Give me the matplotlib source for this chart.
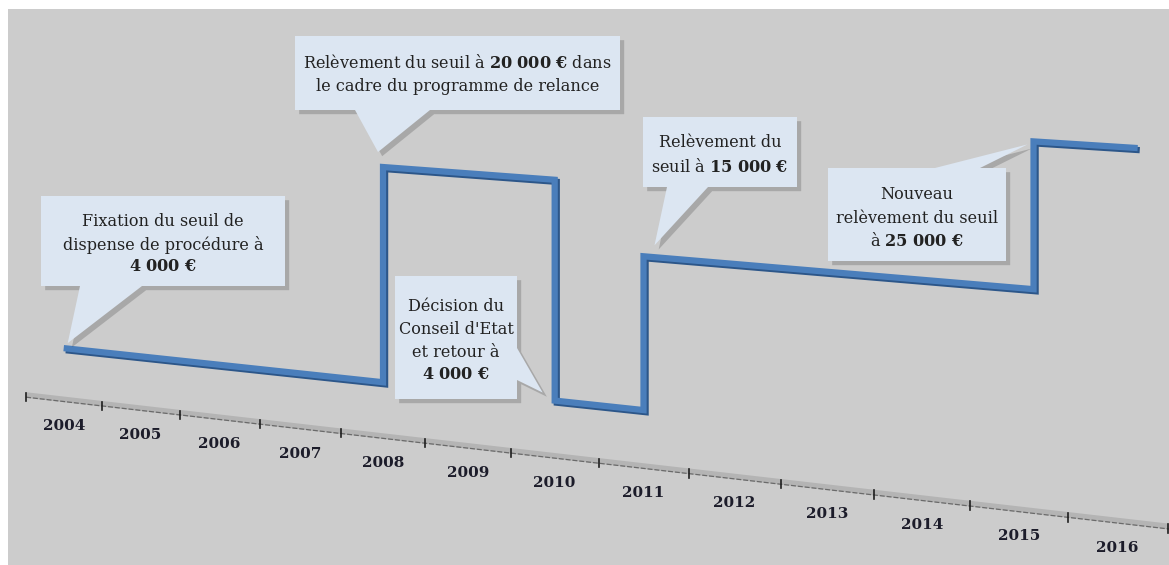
import numpy as np
import matplotlib
matplotlib.use("Agg")
import matplotlib.pyplot as plt
from matplotlib.transforms import Transform
from matplotlib.patches import Polygon
import matplotlib.patheffects as pe

# seuil de dispense de procédure (euros), step line
years = [2004, 2008, 2008, 2010, 2010, 2011, 2011, 2015.15, 2015.15, 2016.2]
seuil = [4000, 4000, 20000, 20000, 4000, 4000, 15000, 15000, 25000, 25000]
year_labels = list(range(2004, 2017))

plt.rcParams['font.family'] = 'DejaVu Serif'
plt.rcParams['mathtext.fontset'] = 'custom'
plt.rcParams['mathtext.rm'] = 'DejaVu Serif'
plt.rcParams['mathtext.bf'] = 'DejaVu Serif:bold'


class Floor(Transform):
    # tilted "3D" floor: years go down to the right, euros rise off the axis line
    input_dims = output_dims = 2

    def transform_non_affine(self, v):
        v = np.asarray(v, float).reshape(-1, 2)
        t = v[:, 0] - 2004
        px = 63.7 + 75.83 * t + 1.0 * t ** 2
        k = (12.67 + 0.00204 * px) / 1000
        py = 395 + 0.115 * (px - 26) - v[:, 1] * k
        return np.column_stack([px, py])


fig = plt.figure(figsize=(11.69, 5.65), dpi=100)
ax = fig.add_axes([8 / 1169, 0, 1161 / 1169, 556 / 565])
ax.set_xlim(8, 1169)
ax.set_ylim(565, 9)
ax.set_facecolor('#cccccc')
for s in ax.spines.values():
    s.set_visible(False)
ax.set_xticks([])
ax.set_yticks([])

floor = Floor() + ax.transData

# axis line with ticks between years
ax.plot([2003.5, 2016.7], [0, 0], transform=floor, color='#b4b4b4', lw=4,
        solid_capstyle='butt')
ax.plot([2003.5, 2016.7], [-170, -170], transform=floor, color='#6a6a6a', lw=0.9,
        ls=(0, (4, 1.5)))
for b in np.arange(year_labels[0] - 0.5, year_labels[-1] + 0.6, 1):
    ax.plot([b, b], [150, -450], transform=floor, color='#1e1e1e', lw=1.2)

for y in year_labels:
    ax.annotate(str(y), xy=(y, 0), xycoords=floor, xytext=(0, -27),
                textcoords='offset pixels', ha='center', va='center',
                fontsize=11, fontweight='bold', color='#1c1c2a')

# the blue step line
ax.plot(years, seuil, transform=floor, color='#4a7ebb', lw=4.5,
        solid_joinstyle='miter', solid_capstyle='butt', zorder=3,
        path_effects=[pe.SimpleLineShadow(offset=(1.5, -1.5), shadow_color='#2c5689', alpha=1),
                      pe.Normal()])

# callouts: text lines, box, tail edge, tail base, anchor point, tip offset
callouts = [
    dict(lines=['Fixation du seuil de', 'dispense de procédure à', r'$\mathbf{4\ 000\ €}$'],
         ly=[222, 245, 267], box=(41, 196, 285, 286), edge='bottom', base=(80, 142),
         at=(2004, 4000), off=(4, -5)),
    dict(lines=[r'Relèvement du seuil à $\mathbf{20\ 000\ €}$ dans', 'le cadre du programme de relance'],
         ly=[63, 87], box=(295, 36, 620, 110), edge='bottom', base=(355, 430),
         at=(2008, 20000), off=(-5, -15)),
    dict(lines=['Décision du', "Conseil d'Etat", 'et retour à', r'$\mathbf{4\ 000\ €}$'],
         ly=[307, 330, 353, 375], box=(395, 276, 517, 399), edge='right', base=(348, 380),
         at=(2010, 4000), off=(-12, -8)),
    dict(lines=['Relèvement du', r'seuil à $\mathbf{15\ 000\ €}$'],
         ly=[143, 167], box=(643, 117, 797, 187), edge='bottom', base=(667, 708),
         at=(2011, 15000), off=(11, -11)),
    dict(lines=['Nouveau', 'relèvement du seuil', r'à $\mathbf{25\ 000\ €}$'],
         ly=[195, 219, 241], box=(828, 168, 1006, 261), edge='top', base=(935, 980),
         at=(2015.15, 25000), off=(-6, 3)),
]

for c in callouts:
    x0, y0, x1, y1 = c['box']
    a, b = c['base']
    tip = Floor().transform([c['at']])[0] + np.array(c['off'])
    if c['edge'] == 'bottom':
        verts = [(x0, y0), (x1, y0), (x1, y1), (b, y1), tip, (a, y1), (x0, y1)]
    elif c['edge'] == 'top':
        verts = [(x0, y0), (a, y0), tip, (b, y0), (x1, y0), (x1, y1), (x0, y1)]
    else:
        verts = [(x0, y0), (x1, y0), (x1, a), tip, (x1, b), (x1, y1), (x0, y1)]
    poly = Polygon(verts, closed=True, fc='#dce6f2', ec='none', zorder=4,
                   path_effects=[pe.SimplePatchShadow(offset=(3, -3), shadow_rgbFace='#555555', alpha=0.3),
                                 pe.Normal()])
    ax.add_patch(poly)
    cx = (x0 + x1) / 2
    for line, ly in zip(c['lines'], c['ly']):
        ax.text(cx, ly, line, ha='center', va='center', fontsize=11.6,
                color='#222222', zorder=5)

fig.savefig('out.png', dpi=100, facecolor='white')
